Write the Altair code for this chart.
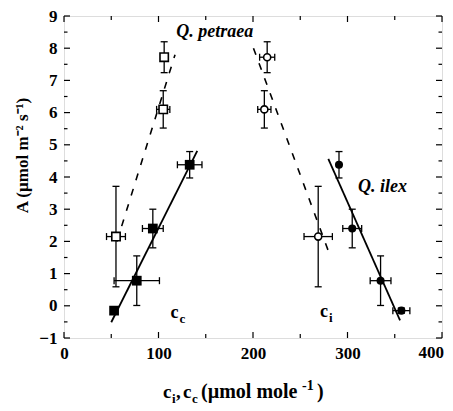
import altair as alt
import pandas as pd

# ---------------- data ----------------
A_petraea = [2.15, 6.10, 7.72]
A_petraea_err = [1.56, 0.58, 0.48]
cc_petraea = [55, 105, 106]
cc_petraea_err = [10, 7, 3]
ci_petraea = [269, 212, 215]
ci_petraea_err = [15, 7, 8]

A_ilex = [-0.15, 0.78, 2.40, 4.38]
A_ilex_err = [0.08, 0.77, 0.60, 0.41]
cc_ilex = [53, 77, 94, 133]
cc_ilex_err = [0, 24, 11, 13]
ci_ilex = [357, 335, 305, 291]
ci_ilex_err = [9, 11, 10, 0]

# regression line end points (x, A)
fit_cc_ilex_x = [50, 141]
fit_cc_ilex_A = [-0.51, 4.81]
fit_cc_petraea_x = [56, 117.5]
fit_cc_petraea_A = [2.0, 7.8]
fit_ci_petraea_x = [200.5, 281]
fit_ci_petraea_A = [8.0, 1.6]
fit_ci_ilex_x = [279.7, 355.6]
fit_ci_ilex_A = [4.56, -0.45]

# annotations
species_labels = ["Q. petraea", "Q. ilex"]
species_x = [159.5, 337]
species_A = [8.5, 3.69]

x_major = [0, 100, 200, 300, 400]
x_minor = [50, 150, 250, 350]
y_major = [-1, 0, 1, 2, 3, 4, 5, 6, 7, 8, 9]
y_minor = [-0.5, 0.5, 1.5, 2.5, 3.5, 4.5, 5.5, 6.5, 7.5, 8.5]

# ---------------- tables ----------------
W, H = 378, 322
FONT = "Liberation Serif"


def pts(xs, xe, As, Ae):
    return pd.DataFrame({"x": xs, "xerr": xe, "A": As, "Aerr": Ae})


d_pcc = pts(cc_petraea, cc_petraea_err, A_petraea, A_petraea_err)
d_pci = pts(ci_petraea, ci_petraea_err, A_petraea, A_petraea_err)
d_icc = pts(cc_ilex, cc_ilex_err, A_ilex, A_ilex_err)
d_ici = pts(ci_ilex, ci_ilex_err, A_ilex, A_ilex_err)
allpts = pd.concat([d_pcc, d_pci, d_icc, d_ici], ignore_index=True)
allpts["xlo"] = allpts["x"] - allpts["xerr"]
allpts["xhi"] = allpts["x"] + allpts["xerr"]
allpts["ylo"] = allpts["A"] - allpts["Aerr"]
allpts["yhi"] = allpts["A"] + allpts["Aerr"]
xpts = allpts[allpts["xerr"] > 0]

solid = pd.DataFrame({
    "x": fit_cc_ilex_x + fit_ci_ilex_x,
    "A": fit_cc_ilex_A + fit_ci_ilex_A,
    "s": ["a", "a", "b", "b"],
})
dashed = pd.DataFrame({
    "x": fit_cc_petraea_x + fit_ci_petraea_x,
    "A": fit_cc_petraea_A + fit_ci_petraea_A,
    "s": ["a", "a", "b", "b"],
})
ann = pd.DataFrame({"t": species_labels, "x": species_x, "A": species_A})

xs = alt.Scale(domain=[0, 400], nice=False, zero=False)
ys = alt.Scale(domain=[-1, 9], nice=False, zero=False)

XAX = alt.Axis(values=x_major[:-1], ticks=False, domain=False, grid=False, title=None,
               labelFont=FONT, labelFontWeight="bold", labelFontSize=17,
               labelPadding=7, labelColor="black", labelFlush=False)
YAX = alt.Axis(values=y_major, ticks=False, domain=False, grid=False,
               title="A (µmol m⁻² s⁻¹)", titleFont=FONT, titleFontWeight="bold",
               titleFontSize=17, titleColor="black", titleX=-42, titleY=139,
               titleAngle=270, titleAlign="center", titleBaseline="middle",
               labelFont=FONT, labelFontWeight="bold", labelFontSize=17,
               labelPadding=7, labelColor="black", labelFlush=False)


def X(f):
    return alt.X(f, type="quantitative", scale=xs, axis=XAX)


def Y(f):
    return alt.Y(f, type="quantitative", scale=ys, axis=YAX)


layers = []

# regression lines
layers.append(alt.Chart(solid).mark_line(color="black", strokeWidth=1.8).encode(
    x=X("x"), y=Y("A"), detail="s:N"))
layers.append(alt.Chart(dashed).mark_line(color="black", strokeWidth=1.6,
                                          strokeDash=[7, 9]).encode(
    x=X("x"), y=Y("A"), detail="s:N"))

# error bars
layers.append(alt.Chart(allpts).mark_rule(color="black", strokeWidth=1.3).encode(
    x=X("x"), y=Y("ylo"), y2="yhi"))
for f in ["ylo", "yhi"]:
    layers.append(alt.Chart(allpts).mark_tick(color="black", orient="horizontal",
                                              size=7, thickness=1.3, opacity=1).encode(
        x=X("x"), y=Y(f)))
layers.append(alt.Chart(xpts).mark_rule(color="black", strokeWidth=1.3).encode(
    x=X("xlo"), x2="xhi", y=Y("A")))
for f in ["xlo", "xhi"]:
    layers.append(alt.Chart(xpts).mark_tick(color="black", orient="vertical",
                                            size=7, thickness=1.3, opacity=1).encode(
        x=X(f), y=Y("A")))

# points
layers.append(alt.Chart(d_pcc).mark_point(shape="square", size=70, filled=True,
                                          fill="white", stroke="black",
                                          strokeWidth=1.6, opacity=1).encode(
    x=X("x"), y=Y("A")))
layers.append(alt.Chart(d_icc).mark_point(shape="square", size=95, filled=True,
                                          fill="black", opacity=1).encode(
    x=X("x"), y=Y("A")))
layers.append(alt.Chart(d_pci).mark_point(shape="circle", size=50, filled=True,
                                          fill="white", stroke="black",
                                          strokeWidth=1.6, opacity=1).encode(
    x=X("x"), y=Y("A")))
layers.append(alt.Chart(d_ici).mark_point(shape="circle", size=65, filled=True,
                                          fill="black", opacity=1).encode(
    x=X("x"), y=Y("A")))

# species annotations
layers.append(alt.Chart(ann).mark_text(font=FONT, fontWeight="bold", fontStyle="italic",
                                       fontSize=18, color="black", baseline="middle",
                                       align="center").encode(
    x=X("x"), y=Y("A"), text="t:N"))

# c_c and c_i labels inside the plot
cc_lab = pd.DataFrame({"x": [117], "A": [-0.23]})
ci_lab = pd.DataFrame({"x": [275], "A": [-0.2]})
for d, sub in [(cc_lab, "c"), (ci_lab, "i")]:
    layers.append(alt.Chart(d).mark_text(text="c", font=FONT, fontWeight="bold",
                                         fontSize=18, color="black",
                                         baseline="middle", align="center").encode(
        x=X("x"), y=Y("A")))
    layers.append(alt.Chart(d).mark_text(text=sub, font=FONT, fontWeight="bold",
                                         fontSize=13, color="black",
                                         baseline="middle", align="left",
                                         dx=5, dy=6).encode(
        x=X("x"), y=Y("A")))

# last x tick label, nudged so it stays inside the page
last_lab = pd.DataFrame({"t": [x_major[-1]]})
layers.append(alt.Chart(last_lab).mark_text(font=FONT, fontWeight="bold", fontSize=17,
                                            color="black", baseline="top",
                                            align="right", dx=2).encode(
    x=X("t"), y=alt.value(H + 7), text="t:Q"))

# inside ticks on all four sides
tx_major = pd.DataFrame({"t": x_major})
tx_minor = pd.DataFrame({"t": x_minor})
ty_major = pd.DataFrame({"t": y_major})
ty_minor = pd.DataFrame({"t": y_minor})
for d, ln in [(tx_major, 6), (tx_minor, 4)]:
    layers.append(alt.Chart(d).mark_rule(color="black", strokeWidth=1.2).encode(
        x=X("t"), y=alt.value(H), y2=alt.value(H - ln)))
    layers.append(alt.Chart(d).mark_rule(color="black", strokeWidth=1.2).encode(
        x=X("t"), y=alt.value(0), y2=alt.value(ln)))
for d, ln in [(ty_major, 6), (ty_minor, 3.5)]:
    layers.append(alt.Chart(d).mark_rule(color="black", strokeWidth=1.2).encode(
        y=Y("t"), x=alt.value(0), x2=alt.value(ln)))
    layers.append(alt.Chart(d).mark_rule(color="black", strokeWidth=1.2).encode(
        y=Y("t"), x=alt.value(W), x2=alt.value(W - ln)))

# x-axis title built from pieces (subscripts / superscript)
one = pd.DataFrame({"k": [0]})
TY = H + 60


def piece(text, x, y, size):
    return alt.Chart(one).mark_text(text=text, font=FONT, fontWeight="bold",
                                    fontSize=size, color="black", align="left",
                                    baseline="alphabetic").encode(
        x=alt.value(x), y=alt.value(y))


layers += [
    piece("c", 99, TY, 19),
    piece("i", 108, TY + 5, 13),
    piece(",", 112, TY, 19),
    piece("c", 119, TY, 19),
    piece("c", 128, TY + 5, 13),
    piece("(µmol mole", 137, TY, 20),
    piece("-1", 238, TY - 8, 14),
    piece(")", 253, TY, 20),
]

chart = alt.layer(*layers).properties(
    width=W, height=H,
    autosize=alt.AutoSizeParams(type="none"),
    padding={"left": 56, "top": 8, "right": 3, "bottom": 73},
).configure_view(stroke="black", strokeWidth=2).configure(background="white")

chart.save("out.html", embed_options={"renderer": "svg", "actions": False})
